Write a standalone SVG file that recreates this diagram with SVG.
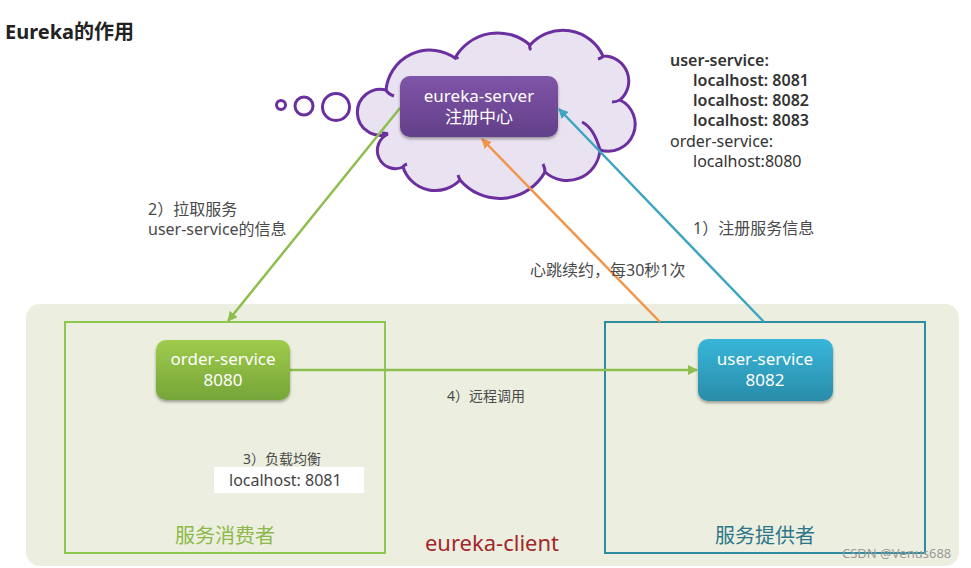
<svg xmlns="http://www.w3.org/2000/svg" width="971" height="568" viewBox="0 0 971 568">
<style>
text{font-family:"Noto Sans","Noto Sans CJK SC",sans-serif}
.lbl{font-size:16px;fill:#4a4a4a}
.sm{font-size:14px;fill:#4a4a4a}
.nt{font-size:17px;fill:#ffffff;text-anchor:middle}
.rt{font-size:16px;fill:#333}
.b{font-weight:600}
.cloud{fill:#E9E2F0;stroke:#6B2FA0;stroke-width:3}
.tick{fill:none;stroke:#6B2FA0;stroke-width:3}
</style>
<defs>
<linearGradient id="gP" x1="0" y1="0" x2="0" y2="1"><stop offset="0" stop-color="#8055A8"/><stop offset="1" stop-color="#623F89"/></linearGradient>
<linearGradient id="gG" x1="0" y1="0" x2="0" y2="1"><stop offset="0" stop-color="#9FCB4B"/><stop offset="1" stop-color="#76A539"/></linearGradient>
<linearGradient id="gB" x1="0" y1="0" x2="0" y2="1"><stop offset="0" stop-color="#37B6D9"/><stop offset="1" stop-color="#2A8CA9"/></linearGradient>
<filter id="sh" x="-20%" y="-20%" width="140%" height="150%"><feDropShadow dx="0" dy="2" stdDeviation="1.5" flood-color="#000" flood-opacity="0.35"/></filter>
<marker id="aG" viewBox="0 0 10 10" refX="9" refY="5" markerWidth="4" markerHeight="4" orient="auto"><path d="M0,0 L10,5 L0,10 z" fill="#8DBE4F"/></marker>
<marker id="aO" viewBox="0 0 10 10" refX="9" refY="5" markerWidth="4" markerHeight="4" orient="auto"><path d="M0,0 L10,5 L0,10 z" fill="#F0954A"/></marker>
<marker id="aB" viewBox="0 0 10 10" refX="9" refY="5" markerWidth="4" markerHeight="4" orient="auto"><path d="M0,0 L10,5 L0,10 z" fill="#3EA5C0"/></marker>
</defs>
<rect width="971" height="568" fill="#ffffff"/>
<text x="5" y="39" font-size="20" font-weight="bold" fill="#222">Eureka的作用</text>

<g id="eureka-client">
<rect x="26" y="304" width="933" height="262" rx="14" fill="#ECEFDF"/>
<text x="492" y="551" font-size="22" fill="#A3262A" text-anchor="middle">eureka-client</text>
</g>

<g id="consumer-box">
<rect x="65" y="322" width="320" height="231" fill="none" stroke="#8FC64E" stroke-width="2"/>
<text x="225" y="543" font-size="20" fill="#8DB84A" text-anchor="middle">服务消费者</text>
</g>
<g id="provider-box">
<rect x="605" y="322" width="320" height="231" fill="none" stroke="#2E8BA0" stroke-width="2"/>
<text x="765" y="543" font-size="20" fill="#2D7689" text-anchor="middle">服务提供者</text>
</g>

<g id="cloud">
<circle cx="281" cy="105" r="4.5" fill="#fff" stroke="#6B2FA0" stroke-width="3"/>
<circle cx="304" cy="106" r="9" fill="#fff" stroke="#6B2FA0" stroke-width="3"/>
<circle cx="336" cy="107" r="13.5" fill="#fff" stroke="#6B2FA0" stroke-width="3"/>
<path class="cloud" d="M388,134 A23,23 0 1 1 386,90 A44,44 0 0 1 455,58 A49,49 0 0 1 530,45 A44,44 0 0 1 603,56 A25,25 0 0 1 620,100 A27,27 0 0 1 600,150 A33,33 0 0 1 545,172 A52,52 0 0 1 460,180 A34,34 0 0 1 403,167 A18,18 0 0 1 388,134 Z"/>
<path class="tick" d="M386,90 q2,4 8,6"/>
<path class="tick" d="M455,58 q2,-1 3,1"/>
<path class="tick" d="M530,45 q-1,3 1,5"/>
<path class="tick" d="M603,56 q-1,2 -5,3"/>
<path class="tick" d="M620,100 q-4,2 -8,2"/>
<path class="tick" d="M582,122 q12,6 18,28"/>
<path class="tick" d="M545,172 q0,-4 -2,-8"/>
<path class="tick" d="M460,180 q-1,-2 -2,-5"/>
<path class="tick" d="M403,167 q1,-2 4,-3"/>
<path class="tick" d="M388,134 q-2,-1 -6,-1"/>
</g>

<g id="connectors" fill="none" stroke-width="2.5">
<line x1="400" y1="108" x2="228" y2="321" stroke="#8DBE4F" marker-end="url(#aG)"/>
<line x1="660" y1="322" x2="482" y2="139" stroke="#F0954A" marker-end="url(#aO)"/>
<line x1="764" y1="322" x2="559" y2="109" stroke="#3EA5C0" marker-end="url(#aB)"/>
<line x1="290" y1="370" x2="697" y2="370" stroke="#8DBE4F" marker-end="url(#aG)"/>
</g>

<g id="eureka-server">
<rect x="400" y="76" width="158" height="61" rx="10" fill="url(#gP)" filter="url(#sh)"/>
<text class="nt" x="479" y="102">eureka-server</text>
<text class="nt" x="479" y="123">注册中心</text>
</g>

<g id="order-service">
<rect x="156" y="340" width="134" height="60" rx="10" fill="url(#gG)" filter="url(#sh)"/>
<text class="nt" x="223" y="365">order-service</text>
<text class="nt" x="223" y="386">8080</text>
</g>

<g id="user-service">
<rect x="698" y="339" width="135" height="62" rx="10" fill="url(#gB)" filter="url(#sh)"/>
<text class="nt" x="765" y="365">user-service</text>
<text class="nt" x="765" y="386">8082</text>
</g>

<g id="labels">
<text class="lbl" x="148" y="215">2）拉取服务</text>
<text class="lbl" x="148" y="235">user-service的信息</text>
<text class="lbl" x="693" y="234">1）注册服务信息</text>
<text class="lbl" x="530" y="276">心跳续约，每30秒1次</text>
<text class="sm" x="447" y="401">4）远程调用</text>
<text class="sm" x="243" y="464">3）负载均衡</text>
<rect x="214" y="467" width="150" height="26" fill="#ffffff"/>
<text x="229" y="486" font-size="16" fill="#444">localhost: 8081</text>
</g>

<g id="registry">
<text class="rt b" x="670" y="66">user-service:</text>
<text class="rt b" x="693" y="86">localhost: 8081</text>
<text class="rt b" x="693" y="106">localhost: 8082</text>
<text class="rt b" x="693" y="126">localhost: 8083</text>
<text class="rt" x="670" y="147" fill="#444">order-service:</text>
<text class="rt" x="693" y="167" fill="#444">localhost:8080</text>
</g>

<text x="842" y="558" font-size="13" fill="#9a9a9a">CSDN @Venus688</text>
</svg>
